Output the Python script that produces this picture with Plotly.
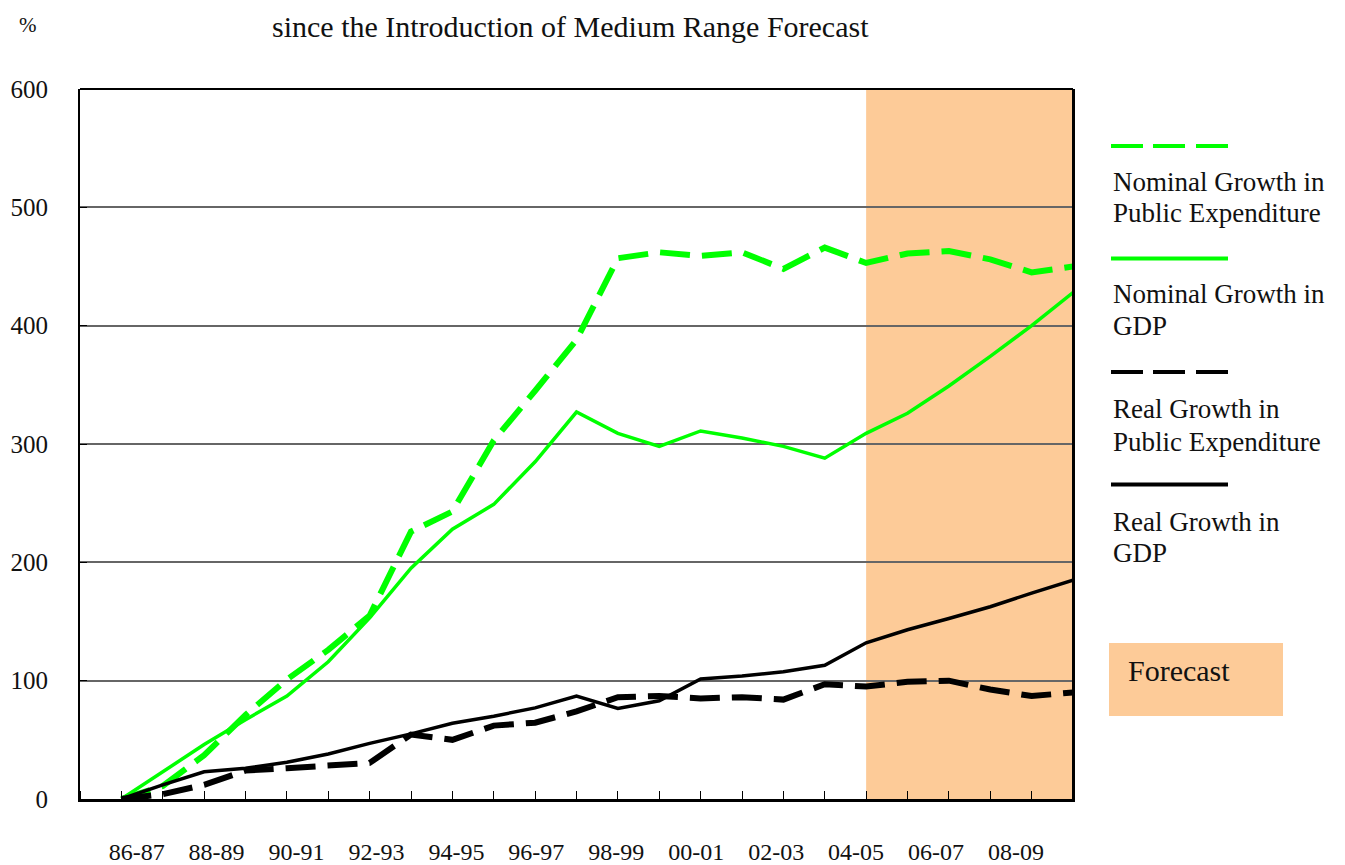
import plotly.graph_objects as go

years = ["86-87", "87-88", "88-89", "89-90", "90-91", "91-92", "92-93", "93-94",
         "94-95", "95-96", "96-97", "97-98", "98-99", "99-00", "00-01", "01-02",
         "02-03", "03-04", "04-05", "05-06", "06-07", "07-08", "08-09", "09-10"]

nominal_pe = [0, 11, 37, 71, 101, 126, 155, 226, 243, 303, 345, 388,
              457, 462, 459, 462, 448, 466, 453, 461, 463, 456, 445, 450]
nominal_gdp = [0, 23, 46, 67, 87, 116, 153, 195, 228, 249, 285, 327,
               309, 298, 311, 305, 298, 288, 309, 326, 349, 374, 400, 428]
real_pe = [0, 4, 12, 24, 26, 28.5, 30.5, 54.5, 50, 62, 64.5, 74,
           86, 87, 85, 86, 84, 97, 95, 99, 100, 92.5, 87, 90]
real_gdp = [0, 12, 23, 26, 31, 38, 47, 55, 64, 70, 77, 87,
            76.5, 83, 101.5, 104, 107.5, 113, 132, 143, 152.5, 162.5, 174, 185]

label_years = years[0::2]
forecast_start = "04-05"

series_names = ["Nominal Growth in<br>Public Expenditure", "Nominal Growth in<br>GDP",
                "Real Growth in<br>Public Expenditure", "Real Growth in<br>GDP"]

GREEN = "#00FF00"
BLACK = "#000000"
ORANGE = "#FDCB98"
FONT = "Liberation Serif"

OFF = 8  # page body margin
W, H = 1345 - OFF, 865 - OFF
# plot area in screen pixels
SL, SR, ST, SB = 80, 1073, 89, 799
L, R, T, B = SL - OFF, SR - OFF, ST - OFF, SB - OFF


def px(xs):
    return (xs - SL) / (SR - SL)


def py(ys):
    return (SB - ys) / (SB - ST)


idx = list(range(len(years)))

fig = go.Figure()
fig.add_trace(go.Scatter(x=idx, y=nominal_pe, mode="lines", name=series_names[0],
                         line=dict(color=GREEN, width=6, dash="30px,12px")))
fig.add_trace(go.Scatter(x=idx, y=nominal_gdp, mode="lines", name=series_names[1],
                         line=dict(color=GREEN, width=3.5)))
fig.add_trace(go.Scatter(x=idx, y=real_pe, mode="lines", name=series_names[2],
                         line=dict(color=BLACK, width=6, dash="30px,12px")))
fig.add_trace(go.Scatter(x=idx, y=real_gdp, mode="lines", name=series_names[3],
                         line=dict(color=BLACK, width=3.5)))

fs = years.index(forecast_start)
shapes = [dict(type="rect", xref="x", yref="paper", x0=fs, x1=len(years) - 1,
               y0=0, y1=1, fillcolor=ORANGE, line=dict(width=0), layer="below")]

# custom legend
leg_line_y = [146, 258.5, 372, 484.5]
leg_styles = [(GREEN, "dash"), (GREEN, "solid"), (BLACK, "dash"), (BLACK, "solid")]
for yl, (col, st) in zip(leg_line_y, leg_styles):
    if st == "solid":
        shapes.append(dict(type="line", xref="paper", yref="paper",
                           x0=px(1111), x1=px(1228), y0=py(yl), y1=py(yl),
                           line=dict(color=col, width=4)))
    else:
        for a, b in [(1111, 1143), (1153, 1185), (1196, 1228)]:
            shapes.append(dict(type="line", xref="paper", yref="paper",
                               x0=px(a), x1=px(b), y0=py(yl), y1=py(yl),
                               line=dict(color=col, width=4)))

# forecast legend box
shapes.append(dict(type="rect", xref="paper", yref="paper",
                   x0=px(1109), x1=px(1283), y0=py(716), y1=py(643),
                   fillcolor=ORANGE, line=dict(width=0)))

# plot border top/right
shapes.append(dict(type="line", xref="paper", yref="paper", x0=0, x1=1, y0=1, y1=1,
                   line=dict(color="black", width=2)))
shapes.append(dict(type="line", xref="paper", yref="paper", x0=1, x1=1, y0=0, y1=1,
                   line=dict(color="black", width=2)))

annotations = []
leg_text_y = [(182, 213), (294, 326), (409, 441.5), (522, 553)]
for name, (y1, y2) in zip(series_names, leg_text_y):
    l1, l2 = name.split("<br>")
    for t, yy in [(l1, y1), (l2, y2)]:
        annotations.append(dict(text=t, xref="paper", yref="paper", x=px(1111), y=py(yy),
                                xanchor="left", yanchor="middle", showarrow=False,
                                font=dict(family=FONT, size=27, color="#111")))

annotations.append(dict(text="Forecast", xref="paper", yref="paper", x=px(1126), y=py(670),
                        xanchor="left", yanchor="middle", showarrow=False,
                        font=dict(family=FONT, size=30, color="#111")))
annotations.append(dict(text="since the Introduction of Medium Range Forecast",
                        xref="paper", yref="paper", x=px(570), y=py(8), yshift=0,
                        xanchor="center", yanchor="top", showarrow=False,
                        font=dict(family=FONT, size=30, color="#111")))
annotations.append(dict(text="%", xref="paper", yref="paper", x=px(28), y=py(25),
                        xanchor="center", yanchor="middle", showarrow=False,
                        font=dict(family=FONT, size=21, color="#111")))

# category labels are spread a little wider apart than the points in the original
LABEL_START, LABEL_STEP = 0.37, 1.932
label_pos = [LABEL_START + LABEL_STEP * i for i in range(len(label_years))]

fig.update_layout(
    width=W, height=H,
    margin=dict(l=L, r=W - R, t=T, b=H - B, autoexpand=False),
    paper_bgcolor="white", plot_bgcolor="white",
    showlegend=False,
    shapes=shapes, annotations=annotations,
    font=dict(family=FONT, color="#111"),
)
fig.update_xaxes(
    range=[-1, len(years) - 1], automargin=False,
    tickvals=label_pos, ticktext=label_years,
    ticks="", showgrid=False, zeroline=False,
    showline=True, linecolor="black", linewidth=3, mirror=False,
    tickfont=dict(family=FONT, size=24, color="#111"),
    ticklabelstandoff=29,
    minor=dict(ticks="inside", tick0=0, dtick=1, ticklen=8, tickcolor="black", tickwidth=1,
               showgrid=False),
)
fig.update_yaxes(
    range=[0, 600], automargin=False, tickvals=[0, 100, 200, 300, 400, 500, 600],
    showgrid=True, gridcolor="#666", gridwidth=1.5, zeroline=False,
    showline=True, linecolor="black", linewidth=2, mirror=True,
    ticks="inside", ticklen=7, tickcolor="black",
    tickfont=dict(family=FONT, size=25, color="#111"),
    ticklabelstandoff=25,
)

fig.write_html("out.html")
